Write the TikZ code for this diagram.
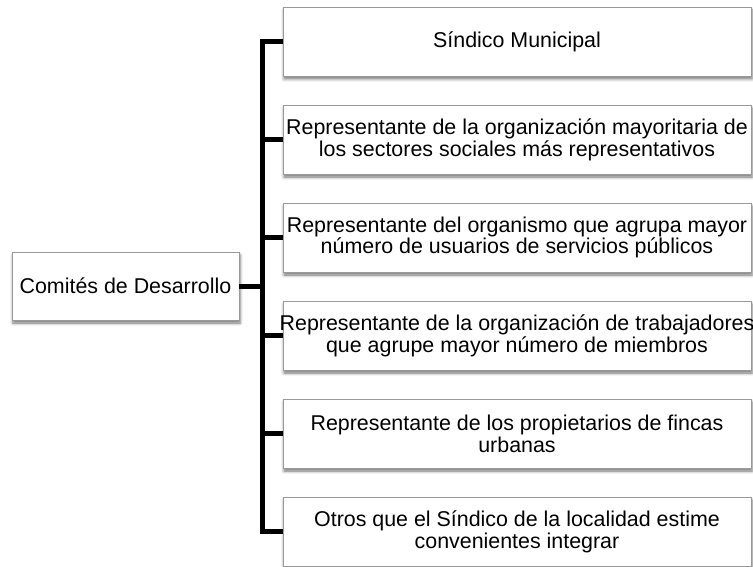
\documentclass[tikz,border=0pt]{standalone}
\usepackage{fontspec}
\setmainfont{Liberation Sans}
\usetikzlibrary{shadows.blur}

\begin{document}
\begin{tikzpicture}[x = 1pt, y = -1pt,
    box/.style = {draw = black!40, line width = 0.8pt, fill = white, inner sep = 0pt,
        blur shadow = {shadow xshift = 1pt, shadow yshift = -3pt,
            shadow blur radius = 3pt, shadow opacity = 55}},
    itembox/.style = {box, minimum width = 468pt, minimum height = 69pt},
    itemtext/.style = {align = center, inner sep = 0pt,
        font = \fontsize{21.4}{21.8}\selectfont},
    bracket/.style = {line width = 5pt, line join = miter}
    ]

    \useasboundingbox (0,0) rectangle (753,567);

    %% Main box on the left
    \node [box, minimum width = 227pt, minimum height = 68pt] (main) at (125.5,286) {};
    \node [itemtext] (mainText) at (main.center) {Comités de Desarrollo};

    \coordinate (bar) at (262,0);

    %% Members on the right
    \foreach \txt [count = \i] in {
        {Síndico Municipal},
        {Representante de la organización mayoritaria de\\los sectores sociales más representativos},
        {Representante del organismo que agrupa mayor\\número de usuarios de servicios públicos},
        {Representante de la organización de trabajadores\\que agrupe mayor número de miembros},
        {Representante de los propietarios de fincas\\urbanas},
        {Otros que el Síndico de la localidad estime\\convenientes integrar}} {
        \node [itembox] (member\i) at (517,{41.5 + 98*(\i-1)}) {};
        \node [itemtext] (memberText\i) at (member\i.center) {\txt};
    }

    %% Drawing the bracket
    \draw [bracket]
    (member1.west) -- (member1.west -| bar)
    -- (member6.west -| bar) -- (member6.west)
    ;

    \foreach \i in {2,...,5} {
        \draw [bracket] (member\i.west -| bar) -- (member\i.west);
    }

    \draw [bracket] (main.east) -- (main.east -| bar);

\end{tikzpicture}
\end{document}
